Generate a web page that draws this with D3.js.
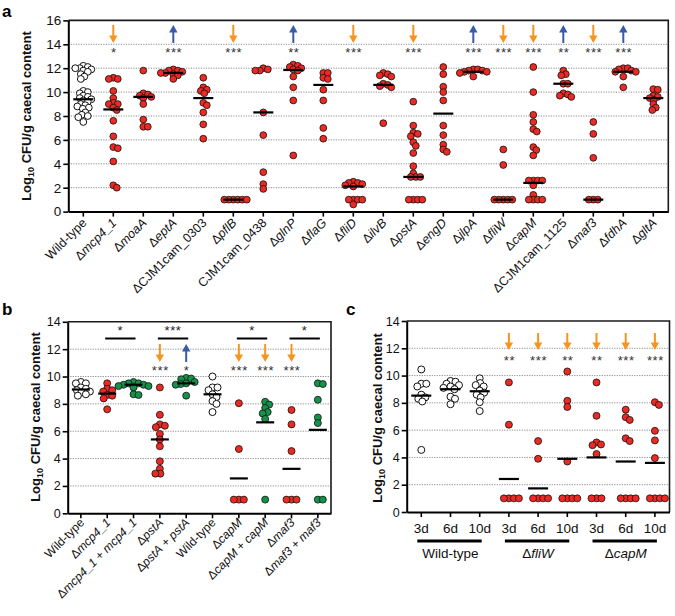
<!DOCTYPE html>
<html><head><meta charset="utf-8">
<script src="https://cdn.jsdelivr.net/npm/d3@7"></script>
<style>
html,body{margin:0;padding:0;background:#fff;}
svg{display:block;font-family:"Liberation Sans",Arial,Helvetica,sans-serif;}
</style></head>
<body>
<svg id="chart" width="675" height="616"></svg>
<script>
// ---------------- DATA ----------------
// Panel a
const aCategories = ["Wild-type","Δ<i>mcp4_1</i>","Δ<i>moaA</i>","Δ<i>eptA</i>","ΔCJM1cam_0303","Δ<i>pflB</i>",
  "CJM1cam_0438","Δ<i>glnP</i>","Δ<i>flaG</i>","Δ<i>fliD</i>","Δ<i>ilvB</i>","Δ<i>pstA</i>","Δ<i>engD</i>",
  "Δ<i>jlpA</i>","Δ<i>fliW</i>","Δ<i>capM</i>","ΔCJM1cam_1125","Δ<i>maf3</i>","Δ<i>fdhA</i>","Δ<i>gltA</i>"];
const aKinds = ["wt","mut","mut","mut","mut","mut","mut","mut","mut","mut","mut","mut","mut","mut","mut","mut","mut","mut","mut","mut"];
const aValues = [
  [12.2,12.1,12.0,12.0,11.9,11.8,11.7,11.5,11.3,11.1,10.1,10.0,9.9,9.7,9.6,9.5,9.4,9.3,9.2,9.0,8.9,8.8,8.7,8.6,8.3,8.1,8.0,7.9,7.5],
  [11.2,11.1,11.1,10.1,9.5,9.1,9.0,9.0,8.7,8.5,7.6,6.3,5.4,5.3,4.2,2.2,2.0],
  [11.8,9.9,9.8,9.7,9.6,9.5,9.0,7.7,7.1,7.1],
  [11.9,11.8,11.8,11.7,11.6,11.6,11.5,11.4,11.1],
  [11.2,10.4,10.2,10.1,9.9,9.1,8.9,8.3,7.3,6.1],
  [1,1,1,1,1,1],
  [12.0,11.9,11.8,11.8,8.3,6.4,3.3,2.3,1.9],
  [12.3,12.2,12.1,12.0,11.9,11.8,11.3,10.4,9.3,4.7],
  [11.6,11.6,11.2,11.1,10.2,9.3,7.0,6.1],
  [2.5,2.4,2.4,2.3,2.2,2.1,1,1,1,1,0.6],
  [11.6,11.5,11.4,11.3,10.7,10.6,10.5,10.4,7.4],
  [9.2,7.2,6.6,6.5,6.3,5.8,5.5,4.9,3.8,3.2,2.9,2.9,2.9,1,1,1,1],
  [12.1,11.5,10.45,10.0,9.3,7.2,6.4,5.6,5.2,5.0],
  [11.9,11.9,11.8,11.8,11.7,11.7,11.6,11.3],
  [5.2,3.9,1,1,1,1,1],
  [12.1,10.0,8.1,7.5,6.9,6.7,5.4,5.15,4.7,2.6,2.6,2.6,2.6,2.2,1.4,1,1,1,1],
  [11.8,11.5,11.4,10.7,10.7,9.9,9.8,9.7,9.6],
  [7.5,6.5,4.5,1,1,1],
  [12.0,12.0,11.9,11.8,11.7,11.7,11.3,10.4],
  [10.25,10.2,9.7,9.6,9.5,9.35,9.0,8.7,8.5]
];
const aMedians = [9.4,8.55,9.6,11.6,9.5,1,8.3,11.85,10.6,2.1,10.6,2.9,8.2,11.7,1,2.4,10.7,1,11.7,9.5];
const aArrows = [null,"down",null,"up",null,"down",null,"up",null,"down",null,"down",null,"up","down","down","up","down","up",null];
const aStars  = ["","*","","***","","***","","**","","***","","***","","***","***","***","**","***","***",""];
const aTicks = [0,2,4,6,8,10,12,14,16];

// Panel b
const bCategories = ["Wild-type","Δ<i>mcp4_1</i>","Δ<i>mcp4_1</i> + <i>mcp4_1</i>","Δ<i>pstA</i>","Δ<i>pstA</i> + <i>pstA</i>",
  "Wild-type","Δ<i>capM</i>","Δ<i>capM</i> + <i>capM</i>","Δ<i>maf3</i>","Δ<i>maf3</i> + <i>maf3</i>"];
const bKinds = ["wt","mut","comp","mut","comp","wt","mut","comp","mut","comp"];
const bValues = [
  [9.6,9.5,9.5,9.2,9.1,9.0,8.9,8.85,8.7,8.6],
  [9.5,9.1,9.0,8.9,8.65,8.6,8.4,7.6],
  [9.6,9.5,9.5,9.4,9.4,9.3,9.3,9.2,8.7,8.65],
  [9.2,7.2,6.5,6.4,6.3,5.8,5.4,4.9,3.8,3.25,2.9,2.9],
  [9.9,9.85,9.8,9.6,9.5,9.45,9.4,8.6],
  [10.0,9.2,9.2,9.0,8.7,8.5,8.2,8.0,7.4],
  [8.05,4.7,1,1,1],
  [8.15,7.95,7.7,7.4,7.3,6.9,1],
  [7.55,6.5,4.55,1,1,1],
  [9.5,9.45,8.3,7.0,6.6,1,1]
];
const bMeans = [9.05,8.75,9.4,5.4,9.5,8.7,2.55,6.65,3.25,6.1];
const bArrows = [null,null,null,"down","up",null,"down","down","down",null];
const bStars  = ["","","","***","*","","***","***","***",""];
const bBrackets = [[1,2,"*"],[3,4,"***"],[6,7,"*"],[8,9,"*"]];
const bTicks = [0,2,4,6,8,10,12,14];

// Panel c
const cCategories = ["3d","6d","10d","3d","6d","10d","3d","6d","10d"];
const cGroups = [["Wild-type",0,2],["Δ<i>fliW</i>",3,5],["Δ<i>capM</i>",6,8]];
const cKinds = ["wt","wt","wt","mut","mut","mut","mut","mut","mut"];
const cValues = [
  [10.45,9.4,9.4,9.2,8.6,8.4,8.3,8.1,4.55],
  [9.6,9.55,9.4,9.3,9.2,9.1,9.0,8.45,8.3,7.9],
  [9.8,9.45,9.3,9.2,8.9,8.75,8.6,8.4,8.05,7.4],
  [9.5,6.4,1,1,1,1],
  [5.2,3.9,1,1,1,1],
  [10.3,8.15,7.7,3.7,1,1,1,1],
  [9.5,7.05,5.1,4.95,4.9,4.25,1,1,1],
  [7.5,6.95,6.75,5.4,5.2,1,1,1,1],
  [8.05,7.85,5.95,5.25,3.95,1,1,1,1]
];
const cMeans = [8.53,9.0,8.85,2.42,1.73,3.9,4.0,3.7,3.6];
const cArrows = [null,null,null,"down","down","down","down","down","down"];
const cStars  = ["","","","**","***","**","**","***","***"];
const cTicks = [0,2,4,6,8,10,12,14];

// ---------------- STYLE ----------------
const COL = {mut:"#ec2a24", comp:"#16914a", wt:"#ffffff", down:"#f7941d", up:"#3a5ba8"};
const svg = d3.select("#chart");

function rich(sel, str){
  str.split(/(<i>.*?<\/i>)/).filter(s=>s.length).forEach(p=>{
    const it = p.startsWith("<i>");
    sel.append("tspan").attr("font-style", it ? "italic" : null).text(it ? p.slice(3,-4) : p);
  });
}

function swarm(vals, y, minDist){
  const pts = vals.map(v=>({v, py:y(v)})).sort((a,b)=>a.py-b.py);
  const placed=[];
  pts.forEach(p=>{
    for(let k=0;k<400;k++){
      const off = (k%2 ? 1 : -1) * Math.ceil(k/2) * 0.5;
      const ok = placed.every(q=>{const dx=off-q.off, dy=p.py-q.py; return dx*dx+dy*dy >= minDist*minDist;});
      if(ok){p.off=off; break;}
    }
    placed.push(p);
  });
  return placed;
}

function drawArrow(g, cx, yTop, yBot, dir){
  const col = COL[dir];
  const hw = 4.2, hh = 7.5;
  if(dir==="down"){
    g.append("line").attr("x1",cx).attr("x2",cx).attr("y1",yTop).attr("y2",yBot-hh+1).attr("stroke",col).attr("stroke-width",2);
    g.append("path").attr("d",`M${cx-hw},${yBot-hh}L${cx+hw},${yBot-hh}L${cx},${yBot}Z`).attr("fill",col);
  } else {
    g.append("line").attr("x1",cx).attr("x2",cx).attr("y1",yTop+hh-1).attr("y2",yBot).attr("stroke",col).attr("stroke-width",2);
    g.append("path").attr("d",`M${cx-hw},${yTop+hh}L${cx+hw},${yTop+hh}L${cx},${yTop}Z`).attr("fill",col);
  }
}

function panel(o){
  const g = svg.append("g");
  const n = o.values.length;
  const x = d3.scaleBand().domain(d3.range(n)).range(o.xr).padding(0);
  const y = d3.scaleLinear().domain([0,o.ymax]).range(o.yr);
  const cx = i => x(i) + x.bandwidth()/2;
  g.selectAll("line.grid").data(o.ticks.filter(t=>t>0 && t<o.ymax)).enter().append("line")
    .attr("x1",o.xr[0]).attr("x2",o.xr[1]).attr("y1",d=>y(d)).attr("y2",d=>y(d))
    .attr("stroke","#8c8c8c").attr("stroke-width",1).attr("stroke-dasharray","1.2,1.3");
  g.append("path").attr("d",`M${o.xr[0]},${y(o.ymax)}H${o.xr[1]}V${y(0)}`)
    .attr("fill","none").attr("stroke","#1a1a1a").attr("stroke-width",1.6);
  const ya = g.append("g").attr("transform",`translate(${o.xr[0]},0)`)
    .call(d3.axisLeft(y).tickValues(o.ticks).tickSize(5).tickSizeOuter(0).tickPadding(2));
  ya.select(".domain").attr("stroke","#000").attr("stroke-width",2);
  ya.selectAll(".tick line").attr("stroke","#000").attr("stroke-width",1.6);
  ya.selectAll(".tick text").attr("font-size",o.tickFont).attr("fill","#111").attr("font-family","Liberation Sans, Arial, sans-serif");
  const xa = g.append("g").attr("transform",`translate(0,${y(0)})`)
    .call(d3.axisBottom(x).tickSize(5).tickSizeOuter(0).tickFormat(""));
  xa.select(".domain").attr("stroke","#000").attr("stroke-width",2);
  xa.selectAll(".tick line").attr("stroke","#000").attr("stroke-width",1.6);
  if(o.rotLabels){
    o.labels.forEach((lab,i)=>{
      const t = g.append("text").attr("text-anchor","end").attr("font-size",o.labelFont).attr("fill","#111")
        .attr("transform",`translate(${cx(i)+o.labOff[0]},${y(0)+o.labOff[1]}) rotate(-45)`);
      rich(t, lab);
    });
  }
  const tt = g.append("text").attr("text-anchor","middle").attr("font-weight","bold").attr("font-size",13).attr("fill","#111")
    .attr("transform",`translate(${o.titleX},${o.titleY}) rotate(-90)`);
  tt.append("tspan").text("Log");
  tt.append("tspan").attr("font-size",9).attr("dy",3).text("10");
  tt.append("tspan").attr("dy",-3).text(" CFU/g caecal content");
  g.append("text").attr("x",o.letterPos[0]).attr("y",o.letterPos[1]).attr("font-size",17).attr("font-weight","bold").text(o.letter);
  o.values.forEach((vals,i)=>{
    const kind = o.kinds[i];
    const pts = swarm(vals, y, o.minDist);
    g.append("g").selectAll("circle").data(pts).enter().append("circle")
      .attr("cx",d=>cx(i)+d.off).attr("cy",d=>d.py).attr("r",o.r)
      .attr("fill",COL[kind]).attr("stroke","#111").attr("stroke-width",kind==="wt"?1:0.8);
  });
  g.selectAll("line.med").data(o.lines).enter().append("line")
    .attr("x1",(d,i)=>cx(i)-o.lineW/2).attr("x2",(d,i)=>cx(i)+o.lineW/2)
    .attr("y1",d=>y(d)).attr("y2",d=>y(d)).attr("stroke","#000").attr("stroke-width",2.2);
  o.arrows.forEach((a,i)=>{ if(a) drawArrow(g, cx(i), o.arrowY[0], o.arrowY[1], a); });
  o.stars.forEach((s,i)=>{ if(s) g.append("text").attr("x",cx(i)+0.5).attr("y",o.starY).attr("text-anchor","middle")
      .attr("font-size",13).attr("letter-spacing",0.6).attr("fill","#333").text(s); });
  return {g,x,y,cx};
}

// ---------------- PANEL A ----------------
panel({values:aValues, kinds:aKinds, lines:aMedians, arrows:aArrows, stars:aStars, labels:aCategories,
  xr:[68.3,668.3], yr:[211.6,20.4], ymax:16, ticks:aTicks, tickFont:13.5, labelFont:12.5, rotLabels:true,
  labOff:[4,12], titleX:31, titleY:116, letter:"a", letterPos:[2,17], r:3.4, minDist:4.2, lineW:20,
  arrowY:[25,43], starY:56.5});

// ---------------- PANEL B ----------------
const pb = panel({values:bValues, kinds:bKinds, lines:bMeans, arrows:bArrows, stars:bStars, labels:bCategories,
  xr:[67.7,331], yr:[513.3,321.8], ymax:14, ticks:bTicks, tickFont:12.5, labelFont:12, rotLabels:true,
  labOff:[4,10], titleX:40, titleY:417, letter:"b", letterPos:[2,315], r:3.5, minDist:4.8, lineW:18,
  arrowY:[344,362], starY:374.5});
bBrackets.forEach(([a,b,s])=>{
  pb.g.append("line").attr("x1",pb.cx(a)-2).attr("x2",pb.cx(b)+2).attr("y1",338.5).attr("y2",338.5)
    .attr("stroke","#000").attr("stroke-width",2);
  pb.g.append("text").attr("x",(pb.cx(a)+pb.cx(b))/2).attr("y",334.5).attr("text-anchor","middle")
    .attr("font-size",13).attr("letter-spacing",0.6).attr("fill","#222").text(s);
});

// ---------------- PANEL C ----------------
const pc = panel({values:cValues, kinds:cKinds, lines:cMeans, arrows:cArrows, stars:cStars, labels:cCategories,
  xr:[406.7,669.5], yr:[512,321], ymax:14, ticks:cTicks, tickFont:12.5, labelFont:13, rotLabels:false,
  titleX:382, titleY:418, letter:"c", letterPos:[346,315], r:3.5, minDist:4.8, lineW:20,
  arrowY:[333,350], starY:364.5});
cCategories.forEach((lab,i)=>{
  pc.g.append("text").attr("x",pc.cx(i)).attr("y",533).attr("text-anchor","middle").attr("font-size",13.5).attr("fill","#111").text(lab);
});
cGroups.forEach(([lab,a,b])=>{
  pc.g.append("line").attr("x1",pc.cx(a)-4).attr("x2",pc.cx(b)+2).attr("y1",541).attr("y2",541)
    .attr("stroke","#000").attr("stroke-width",3);
  const t = pc.g.append("text").attr("x",(pc.cx(a)+pc.cx(b))/2).attr("y",558).attr("text-anchor","middle")
    .attr("font-size",13.5).attr("fill","#111");
  rich(t, lab);
});
</script>
</body></html>
